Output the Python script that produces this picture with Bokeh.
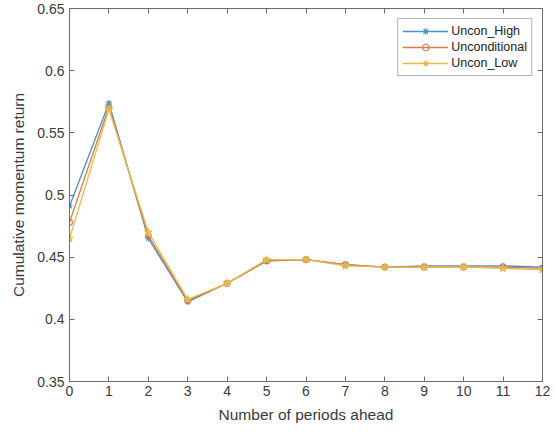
from bokeh.plotting import figure
from bokeh.models import LinearAxis, Range1d, Legend, LegendItem, FixedTicker
from bokeh.embed import file_html
from bokeh.resources import INLINE

periods = [0, 1, 2, 3, 4, 5, 6, 7, 8, 9, 10, 11, 12]
uncon_high = [0.491, 0.574, 0.465, 0.414, 0.429, 0.447, 0.448, 0.444, 0.442, 0.443, 0.443, 0.443, 0.442]
unconditional = [0.478, 0.571, 0.467, 0.415, 0.429, 0.447, 0.448, 0.444, 0.442, 0.442, 0.442, 0.442, 0.441]
uncon_low = [0.465, 0.569, 0.470, 0.416, 0.429, 0.448, 0.448, 0.443, 0.442, 0.442, 0.442, 0.441, 0.440]
y_ticks = [0.35, 0.4, 0.45, 0.5, 0.55, 0.6, 0.65]

FONT = "Liberation Sans"
AXIS_GREY = "#6b6b6b"
TEXT_GREY = "#3a3a3a"

p = figure(width=555, height=435, output_backend="svg", toolbar_location=None,
           x_range=Range1d(0, 12), y_range=Range1d(0.35, 0.65),
           min_border_left=69, min_border_right=13, min_border_top=8, min_border_bottom=54)
p.background_fill_color = "white"
p.border_fill_color = "white"
p.outline_line_color = AXIS_GREY
p.outline_line_width = 1
p.grid.visible = False

p.xaxis.ticker = FixedTicker(ticks=periods)
p.yaxis.ticker = FixedTicker(ticks=y_ticks)
p.yaxis.major_label_overrides = {0.35: "0.35", 0.4: "0.4", 0.45: "0.45", 0.5: "0.5",
                                 0.55: "0.55", 0.6: "0.6", 0.65: "0.65"}
for ax in (p.xaxis[0], p.yaxis[0]):
    ax.axis_line_color = AXIS_GREY
    ax.major_tick_line_color = AXIS_GREY
    ax.major_tick_in = 5
    ax.major_tick_out = 0
    ax.minor_tick_line_color = None
    ax.major_label_text_font = FONT
    ax.major_label_text_font_size = "14px"
    ax.major_label_text_color = TEXT_GREY
    ax.axis_label_text_font = FONT
    ax.axis_label_text_font_size = "15.5px"
    ax.axis_label_text_font_style = "normal"
    ax.axis_label_text_color = TEXT_GREY
p.xaxis.axis_label = "Number of periods ahead"
p.yaxis.axis_label = "Cumulative momentum return"
p.xaxis.major_label_standoff = 4
p.xaxis.axis_label_standoff = 7
p.yaxis.major_label_standoff = 5
p.yaxis.axis_label_standoff = 7

# box ticks on top and right, labels hidden
top = LinearAxis(ticker=FixedTicker(ticks=periods), major_label_text_color=None,
                 major_tick_in=5, major_tick_out=0, minor_tick_line_color=None,
                 axis_line_color=AXIS_GREY, major_tick_line_color=AXIS_GREY,
                 major_label_standoff=0)
right = LinearAxis(ticker=FixedTicker(ticks=y_ticks), major_label_text_color=None,
                   major_tick_in=5, major_tick_out=0, minor_tick_line_color=None,
                   axis_line_color=AXIS_GREY, major_tick_line_color=AXIS_GREY,
                   major_label_standoff=0)
p.add_layout(top, "above")
p.add_layout(right, "right")

series = [
    ("Uncon_High", uncon_high, "#4a90c8", "asterisk", 6),
    ("Unconditional", unconditional, "#d97a50", "circle", 6),
    ("Uncon_Low", uncon_low, "#e8bc48", "star", 8),
]
items = []
for name, ys, color, marker, size in series:
    ln = p.line(periods, ys, line_color=color, line_width=1.3)
    mk = p.scatter(periods, ys, marker=marker, size=size, line_color=color,
                   fill_color=(color if marker == "star" else None),
                   fill_alpha=0.6, line_width=1.1)
    items.append(LegendItem(label=name, renderers=[ln, mk]))

legend = Legend(items=items, location="top_right")
legend.label_text_font = FONT
legend.label_text_font_size = "12.5px"
legend.label_text_color = "#222222"
legend.border_line_color = AXIS_GREY
legend.border_line_width = 1
legend.glyph_width = 46
legend.glyph_height = 16
legend.label_height = 16
legend.spacing = 0
legend.padding = 4
legend.margin = 10
legend.label_standoff = 3
p.add_layout(legend)

open("out.html", "w").write(file_html(p, INLINE))
